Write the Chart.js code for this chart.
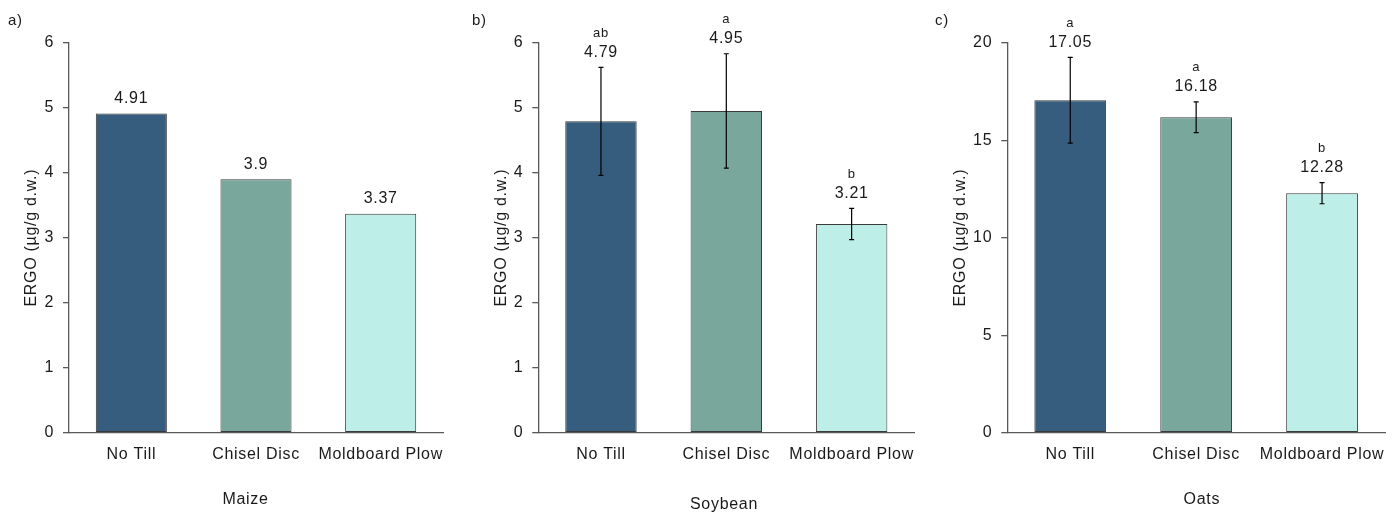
<!DOCTYPE html>
<html>
<head>
<meta charset="utf-8">
<script src="https://cdn.jsdelivr.net/npm/chart.js@4.4.1/dist/chart.umd.min.js"></script>
<style>
  html, body { margin: 0; padding: 0; background: #fff; }
  #wrap { position: relative; width: 1398px; height: 516px; }
  .pane { position: absolute; top: 0; width: 466px; height: 516px; }
</style>
</head>
<body>
<div id="wrap">
  <div class="pane" style="left:0px"><canvas id="ca"></canvas></div>
  <div class="pane" style="left:466px"><canvas id="cb"></canvas></div>
  <div class="pane" style="left:932px"><canvas id="cc"></canvas></div>
</div>
<script>
// ---- data ----
const categories = ['No Till', 'Chisel Disc', 'Moldboard Plow'];
const barColors = ['#375D7E', '#7AA79C', '#BEEEE8'];

const maizeValues = [4.91, 3.9, 3.37];
const maizeErrors = [0, 0, 0];
const maizeLetters = ['', '', ''];

const soybeanValues = [4.79, 4.95, 3.21];
const soybeanErrors = [0.83, 0.88, 0.24];
const soybeanLetters = ['ab', 'a', 'b'];

const oatsValues = [17.05, 16.18, 12.28];
const oatsErrors = [2.2, 0.79, 0.54];
const oatsLetters = ['a', 'a', 'b'];

const yTicksSmall = [0, 1, 2, 3, 4, 5, 6];
const yTicksOats = [0, 5, 10, 15, 20];

const FONT = '"Liberation Sans", Arial, sans-serif';
const AXIS = '#595959';
const TXT = '#1a1a1a';
const SPACING = '0.7px';

const spacingPlugin = {
  id: 'spacing',
  beforeInit(chart) { chart.ctx.letterSpacing = SPACING; },
  beforeDraw(chart) { chart.ctx.letterSpacing = SPACING; }
};

const annotate = {
  id: 'annotate',
  afterDatasetsDraw(chart, args, opts) {
    const ctx = chart.ctx;
    const y = chart.scales.y;
    const area = chart.chartArea;
    const meta = chart.getDatasetMeta(0);
    ctx.save();
    ctx.letterSpacing = SPACING;
    meta.data.forEach((bar, i) => {
      const v = opts.values[i];
      const e = opts.errors[i];
      let top = y.getPixelForValue(v);
      if (e > 0) {
        const hi = y.getPixelForValue(v + e);
        const lo = y.getPixelForValue(v - e);
        ctx.strokeStyle = '#000';
        ctx.lineWidth = 1.2;
        ctx.beginPath();
        ctx.moveTo(bar.x, hi); ctx.lineTo(bar.x, lo);
        ctx.moveTo(bar.x - 2.5, hi); ctx.lineTo(bar.x + 2.5, hi);
        ctx.moveTo(bar.x - 2.5, lo); ctx.lineTo(bar.x + 2.5, lo);
        ctx.stroke();
        top = hi;
      }
      ctx.fillStyle = TXT;
      ctx.textAlign = 'center';
      ctx.textBaseline = 'middle';
      ctx.font = '16px ' + FONT;
      const ly = top - 15;
      ctx.fillText(String(v), bar.x, ly);
      if (opts.letters[i]) {
        ctx.font = '13px ' + FONT;
        ctx.fillText(opts.letters[i], bar.x, ly - 19);
      }
    });
    // x-axis title
    ctx.font = '16px ' + FONT;
    ctx.textAlign = 'center';
    ctx.textBaseline = 'middle';
    ctx.fillText(opts.xTitle, (area.left + area.right) / 2 + opts.xTitleDx, opts.xTitleY);
    // panel letter
    ctx.font = '15px ' + FONT;
    ctx.textAlign = 'left';
    ctx.fillText(opts.panel, opts.panelX, 21);
    ctx.restore();
  }
};

function makePanel(id, cfg) {
  new Chart(document.getElementById(id), {
    type: 'bar',
    data: {
      labels: categories,
      datasets: [{
        data: cfg.values,
        backgroundColor: barColors,
        borderColor: '#3a3a3a',
        borderWidth: 1,
        borderSkipped: false,
        barPercentage: 0.57,
        categoryPercentage: 1.0
      }]
    },
    options: {
      responsive: true,
      maintainAspectRatio: false,
      animation: false,
      layout: { padding: { left: 0, right: cfg.padRight, top: 42.7, bottom: 0 } },
      plugins: {
        legend: { display: false },
        tooltip: { enabled: false },
        annotate: {
          values: cfg.values, errors: cfg.errors, letters: cfg.letters,
          panel: cfg.panel, panelX: cfg.panelX,
          xTitle: cfg.xTitle, xTitleDx: cfg.xTitleDx, xTitleY: cfg.xTitleY
        }
      },
      scales: {
        x: {
          grid: { display: false, drawTicks: false, tickLength: 0 },
          border: { display: true, color: AXIS, width: 1.3 },
          ticks: { color: TXT, font: { family: FONT, size: 16 }, padding: 12.5, maxRotation: 0, autoSkip: false },
          title: { display: false },
          afterFit(s) { s.height = 83.3; }
        },
        y: {
          min: 0, max: cfg.max,
          afterBuildTicks(s) { s.ticks = cfg.ticks.map(v => ({ value: v })); },
          grid: { display: true, drawOnChartArea: false, drawTicks: true, tickLength: 6, color: AXIS, lineWidth: 1.3 },
          border: { display: true, color: AXIS, width: 1.3 },
          ticks: { color: TXT, font: { family: FONT, size: 16 }, padding: 9 },
          title: { display: true, text: 'ERGO (µg/g d.w.)', color: TXT, font: { family: FONT, size: 16 },
                   padding: { top: cfg.yTitlePad, bottom: 0 } },
          afterFit(s) { s.width = cfg.yWidth; }
        }
      }
    },
    plugins: [spacingPlugin, annotate]
  });
}

makePanel('ca', { values: maizeValues, errors: maizeErrors, letters: maizeLetters, max: 6, ticks: yTicksSmall,
  xTitle: 'Maize', xTitleDx: -10.5, xTitleY: 500, yWidth: 69, padRight: 23, yTitlePad: 22.4, panel: 'a)', panelX: 8 });
makePanel('cb', { values: soybeanValues, errors: soybeanErrors, letters: soybeanLetters, max: 6, ticks: yTicksSmall,
  xTitle: 'Soybean', xTitleDx: -2.3, xTitleY: 505, yWidth: 72.3, padRight: 17.7, yTitlePad: 26, panel: 'b)', panelX: 6 });
makePanel('cc', { values: oatsValues, errors: oatsErrors, letters: oatsLetters, max: 20, ticks: yTicksOats,
  xTitle: 'Oats', xTitleDx: 5.7, xTitleY: 500, yWidth: 75.3, padRight: 13, yTitlePad: 19, panel: 'c)', panelX: 3 });
</script>
</body>
</html>
